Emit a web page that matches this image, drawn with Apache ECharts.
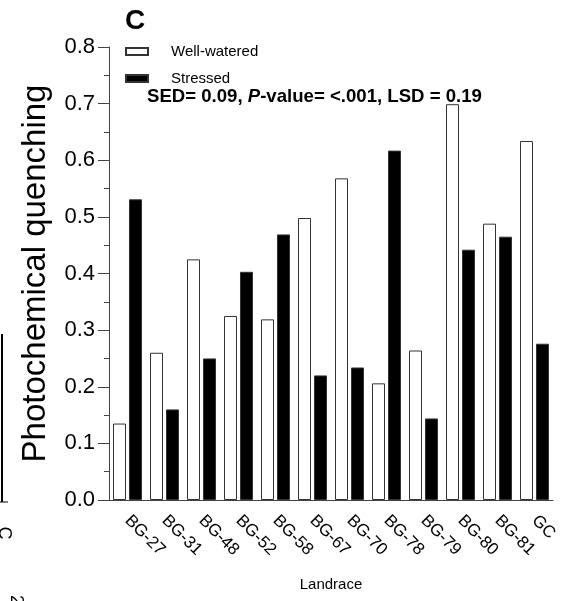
<!DOCTYPE html>
<html>
<head>
<meta charset="utf-8">
<script src="https://cdn.jsdelivr.net/npm/echarts@6/dist/echarts.min.js"></script>
<style>html,body{margin:0;padding:0;background:#fff;}#c{width:564px;height:601px;}</style>
</head>
<body>
<div id="c"></div>
<script>
var categories = ['BG-27','BG-31','BG-48','BG-52','BG-58','BG-67','BG-70','BG-78','BG-79','BG-80','BG-81','GC'];
var wellWatered = [0.135,0.260,0.425,0.325,0.319,0.498,0.568,0.206,0.264,0.699,0.488,0.634];
var stressed = [0.531,0.160,0.250,0.403,0.469,0.220,0.234,0.617,0.144,0.442,0.465,0.276];
var yTicks = [0.0,0.1,0.2,0.3,0.4,0.5,0.6,0.7,0.8];

var FONT = 'Liberation Sans, Arial, sans-serif';
var chart = echarts.init(document.getElementById('c'));
chart.setOption({
  animation: false,
  backgroundColor: '#fff',
  textStyle: {fontFamily: FONT},
  title: {text: 'C', left: 120, top: 2, textStyle: {fontSize: 28, fontWeight: 'bold', color: '#000', fontFamily: FONT}},
  legend: {
    orient: 'vertical', left: 125, top: 44, padding: 0, itemWidth: 22, itemHeight: 7, itemGap: 12,
    icon: 'rect',
    textStyle: {fontSize: 15, color: '#000', fontFamily: FONT, padding: [0,0,0,18]},
    data: ['Well-watered','Stressed']
  },
  grid: {left: 109, top: 47, right: 11, bottom: 101, containLabel: false, outerBoundsMode: 'none'},
  xAxis: {
    type: 'category', data: categories,
    name: 'Landrace', nameLocation: 'middle', nameGap: 77,
    nameTextStyle: {fontSize: 15, color: '#000', fontFamily: FONT},
    axisLine: {lineStyle: {color: '#444', width: 1}},
    axisTick: {alignWithLabel: true, length: 12, lineStyle: {color: '#444'}},
    axisLabel: {rotate: -45, fontSize: 17, color: '#000', margin: 18, fontFamily: FONT}
  },
  yAxis: {
    type: 'value', min: yTicks[0], max: yTicks[yTicks.length-1], interval: 0.1,
    name: 'Photochemical quenching', nameLocation: 'middle', nameGap: 57,
    nameTextStyle: {fontSize: 33, color: '#000', fontFamily: FONT},
    axisLine: {show: true, lineStyle: {color: '#444', width: 1}},
    axisTick: {show: true, length: 11, lineStyle: {color: '#444'}},
    minorTick: {show: true, splitNumber: 2, length: 5, lineStyle: {color: '#444'}},
    splitLine: {show: false},
    axisLabel: {fontSize: 22, color: '#000', margin: 14, fontFamily: FONT, formatter: function(v){return v.toFixed(1);}}
  },
  series: [
    {name: 'Well-watered', type: 'bar', data: wellWatered, barWidth: 13, barGap: '23%',
     itemStyle: {color: '#fff', borderColor: '#333', borderWidth: 1}},
    {name: 'Stressed', type: 'bar', data: stressed, barWidth: 13,
     itemStyle: {color: '#000', borderColor: '#333', borderWidth: 1}}
  ],
  graphic: [
    {type: 'text', left: 147, top: 87, style: {
      text: '{b|SED= 0.09, }{i|P}{b|-value= <.001, LSD = 0.19}',
      rich: {
        b: {fontSize: 18.6, fontWeight: 'bold', fill: '#000', fontFamily: FONT},
        i: {fontSize: 18.6, fontWeight: 'bold', fontStyle: 'italic', fill: '#000', fontFamily: FONT}
      }
    }},
    {type: 'line', shape: {x1: 2, y1: 334, x2: 2, y2: 502}, style: {stroke: '#000', lineWidth: 2}},
    {type: 'line', shape: {x1: 0, y1: 502, x2: 8, y2: 502}, style: {stroke: '#000', lineWidth: 1}},
    {type: 'text', x: 4, y: 533, rotation: -Math.PI/2, style: {text: 'C', fontSize: 18, fill: '#000', fontFamily: FONT, align: 'center', verticalAlign: 'middle'}},
    {type: 'text', x: 16, y: 600, rotation: -Math.PI/2, style: {text: '2', fontSize: 18, fill: '#000', fontFamily: FONT, align: 'center', verticalAlign: 'middle'}}
  ]
});
</script>
</body>
</html>
